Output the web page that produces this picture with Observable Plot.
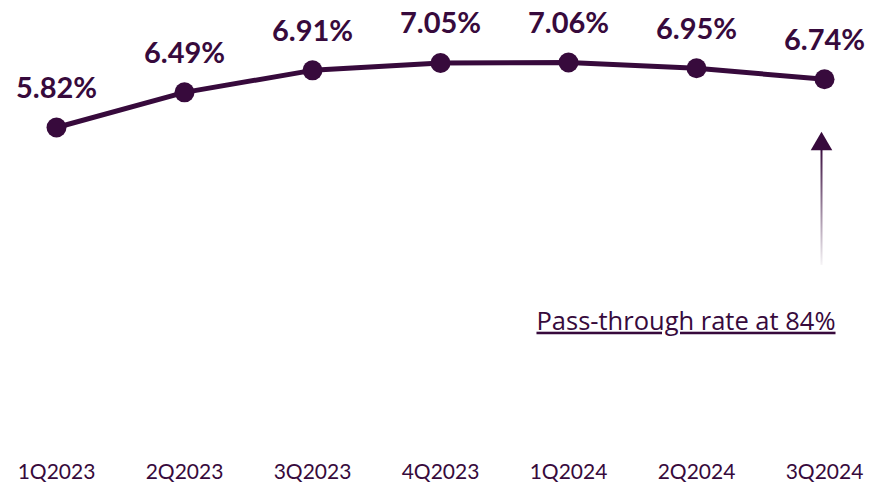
<!DOCTYPE html>
<html>
<head>
<meta charset="utf-8">
<script src="https://cdn.jsdelivr.net/npm/d3@7"></script>
<script src="https://cdn.jsdelivr.net/npm/@observablehq/plot@0.6"></script>
<style>
  html, body { margin: 0; padding: 0; background: #ffffff; }
  #chart svg { display: block; }
</style>
</head>
<body>
<div id="chart"></div>
<script>
const quarters = ["1Q2023", "2Q2023", "3Q2023", "4Q2023", "1Q2024", "2Q2024", "3Q2024"];
const rates = [5.82, 6.49, 6.91, 7.05, 7.06, 6.95, 6.74];
const annotations = [{quarter: "3Q2024", label: "Pass-through rate at 84%"}];

const color = "#370a3c";
const data = quarters.map((q, i) => ({quarter: q, rate: rates[i]}));
const last = data[data.length - 1];

const chart = Plot.plot({
  width: 871,
  height: 486,
  marginTop: 20,
  marginBottom: 30,
  marginLeft: 54,
  marginRight: 46,
  style: {fontFamily: "Lato, sans-serif", background: "#ffffff", fontSize: "21px"},
  x: {type: "point", domain: quarters, padding: 0, label: null},
  y: {domain: [-0.456, 7.861], axis: null},
  marks: [
    Plot.axisX({tickSize: 0, tickPadding: 8, fontSize: 21, fill: color, label: null, className: "xax"}),
    Plot.line(data, {x: "quarter", y: "rate", stroke: color, strokeWidth: 5}),
    Plot.dot(data, {x: "quarter", y: "rate", r: 10, fill: color, stroke: "none"}),
    Plot.text(data, {x: "quarter", y: "rate", text: d => d.rate.toFixed(2) + "%", dy: -39,
      fontSize: 29, fontWeight: "bold", fill: color}),
    Plot.ruleX([last], {x: "quarter", y1: 3.19, y2: 5.45, dx: -3, stroke: color, strokeWidth: 2, className: "arrowline"}),
    Plot.dot([last], {x: "quarter", y: 5.56, dx: -3, dy: 3, symbol: "triangle", r: 8, fill: color, stroke: "none"}),
    Plot.text(annotations, {x: "quarter", y: () => 2.02, dx: 11, dy: 3, text: "label", textAnchor: "end",
      lineAnchor: "bottom", fontSize: 25.5, fill: color, className: "annot"})
  ]
});

const svg = d3.select(chart);
const ys = chart.scale("y");
const defs = svg.insert("defs", ":first-child");
const grad = defs.append("linearGradient")
  .attr("id", "arrowGrad").attr("gradientUnits", "userSpaceOnUse")
  .attr("x1", 0).attr("y1", ys.apply(5.45)).attr("x2", 0).attr("y2", ys.apply(3.19));
grad.append("stop").attr("offset", "0%").attr("stop-color", color).attr("stop-opacity", 1);
grad.append("stop").attr("offset", "100%").attr("stop-color", color).attr("stop-opacity", 0.05);
svg.selectAll("g.arrowline line").attr("stroke", "url(#arrowGrad)");
svg.selectAll("g.annot text")
  .style("text-decoration", "underline")
  .style("font-family", "'Open Sans', Lato, sans-serif");
svg.selectAll("g.xax text")
  .style("font-size", "21px");

document.getElementById("chart").appendChild(chart);
</script>
</body>
</html>
